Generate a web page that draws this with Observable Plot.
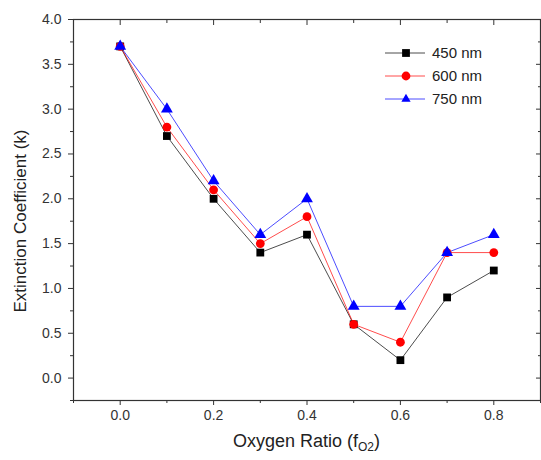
<!DOCTYPE html>
<html>
<head>
<meta charset="utf-8">
<script src="https://cdn.jsdelivr.net/npm/d3@7"></script>
<script src="https://cdn.jsdelivr.net/npm/@observablehq/plot@0.6"></script>
<style>
  html, body { margin: 0; padding: 0; background: #fff; }
  #chart { position: relative; width: 541px; height: 460px; }
  svg { font-family: "Liberation Sans", Arial, sans-serif; }
</style>
</head>
<body>
<div id="chart"></div>
<script>
// ---- data ----
const oxygenRatio = [0.0, 0.1, 0.2, 0.3, 0.4, 0.5, 0.6, 0.7, 0.8];
const k450 = [3.7, 2.7, 2.0, 1.4, 1.6, 0.6, 0.2, 0.9, 1.2];
const k600 = [3.7, 2.8, 2.1, 1.5, 1.8, 0.6, 0.4, 1.4, 1.4];
const k750 = [3.7, 3.0, 2.2, 1.6, 2.0, 0.8, 0.8, 1.4, 1.6];
const seriesNames = ["450 nm", "600 nm", "750 nm"];
const seriesColors = ["#000000", "#ff0000", "#0000ff"];
const seriesSymbols = ["square", "circle", "triangle"];
const xMajorTicks = [0.0, 0.2, 0.4, 0.6, 0.8];
const xMinorTicks = [-0.1, 0.1, 0.3, 0.5, 0.7, 0.9];
const yMajorTicks = [0.0, 0.5, 1.0, 1.5, 2.0, 2.5, 3.0, 3.5, 4.0];
const yMinorTicks = [-0.25, 0.25, 0.75, 1.25, 1.75, 2.25, 2.75, 3.25, 3.75];
const yTitle = "Extinction Coefficient (k)";

const seriesValues = [k450, k600, k750];
const data = [];
seriesNames.forEach((name, i) => {
  oxygenRatio.forEach((x, j) => data.push({series: name, x, k: seriesValues[i][j]}));
});

const fmt = d3.format(".1f");
const axisColor = "#333";
const font = "'Liberation Sans', Arial, sans-serif";

const chart = Plot.plot({
  width: 541,
  height: 460,
  marginLeft: 73,
  marginRight: 1,
  marginTop: 19,
  marginBottom: 60,
  style: {fontFamily: font, fontSize: "14px", color: "#222", background: "#fff"},
  x: {domain: [-0.1, 0.9]},
  y: {domain: [-0.25, 4.0]},
  color: {domain: seriesNames, range: seriesColors},
  symbol: {domain: seriesNames, range: seriesSymbols},
  marks: [
    Plot.frame({stroke: axisColor, strokeWidth: 1.2}),
    // bottom axis
    Plot.axisX({anchor: "bottom", ticks: xMajorTicks, tickSize: 5, tickPadding: 5, tickFormat: fmt, label: null, stroke: axisColor, fill: "#333", fontSize: 14}),
    Plot.axisX({anchor: "bottom", ticks: xMinorTicks, tickSize: 3, fill: "none", label: null, stroke: axisColor}),
    // top axis (inward ticks)
    Plot.axisX({anchor: "top", ticks: xMajorTicks, tickSize: 5, dy: 5, fill: "none", label: null, stroke: axisColor}),
    Plot.axisX({anchor: "top", ticks: xMinorTicks, tickSize: 3, dy: 3, fill: "none", label: null, stroke: axisColor}),
    // left axis
    Plot.axisY({anchor: "left", ticks: yMajorTicks, tickSize: 5, tickPadding: 7, tickFormat: fmt, stroke: axisColor, fill: "#333", fontSize: 14, label: null}),
    Plot.axisY({anchor: "left", ticks: yMinorTicks, tickSize: 3, fill: "none", label: null, stroke: axisColor}),
    // right axis (inward ticks)
    Plot.axisY({anchor: "right", ticks: yMajorTicks, tickSize: 5, dx: -5, fill: "none", label: null, stroke: axisColor}),
    Plot.axisY({anchor: "right", ticks: yMinorTicks, tickSize: 3, dx: -3, fill: "none", label: null, stroke: axisColor}),
    // data
    Plot.line(data, {x: "x", y: "k", z: "series", stroke: "series", strokeWidth: 1, strokeOpacity: 0.7}),
    Plot.dot(data, {x: "x", y: "k", symbol: "series", fill: "series", stroke: "none", r: 4.4})
  ]
});

document.getElementById("chart").appendChild(chart);

const svg = d3.select(chart);
const xs = chart.scale("x");
const cx = (xs.range[0] + xs.range[1]) / 2;

// y-axis title
svg.append("text")
  .attr("transform", "translate(26, 221) rotate(-90)")
  .attr("text-anchor", "middle")
  .attr("fill", "#222")
  .style("font-size", "17px")
  .style("font-family", font)
  .text(yTitle);

// x-axis label with subscript
const xl = svg.append("text")
  .attr("x", cx)
  .attr("y", 447)
  .attr("text-anchor", "middle")
  .attr("fill", "#222")
  .style("font-size", "18px")
  .style("font-family", font);
xl.append("tspan").text("Oxygen Ratio (f");
xl.append("tspan").attr("dy", 4).style("font-size", "12px").text("O2");
xl.append("tspan").attr("dy", -4).text(")");

// legend
const symMap = {square: d3.symbolSquare, circle: d3.symbolCircle, triangle: d3.symbolTriangle2};
const lg = svg.append("g").attr("transform", "translate(385, 53)");
seriesNames.forEach((name, i) => {
  const g = lg.append("g").attr("transform", `translate(0, ${i * 23})`);
  g.append("line").attr("x1", 0).attr("x2", 40).attr("y1", 0).attr("y2", 0)
    .attr("stroke", seriesColors[i]).attr("stroke-width", 1).attr("stroke-opacity", 0.7);
  g.append("path").attr("transform", "translate(21, 0)")
    .attr("d", d3.symbol(symMap[seriesSymbols[i]], Math.PI * 4.4 * 4.4)())
    .attr("fill", seriesColors[i]);
  g.append("text").attr("x", 47).attr("y", 0).attr("dy", "0.35em")
    .attr("text-anchor", "start")
    .attr("fill", "#222").style("font-size", "15px")
    .style("font-family", font)
    .text(name);
});
</script>
</body>
</html>
